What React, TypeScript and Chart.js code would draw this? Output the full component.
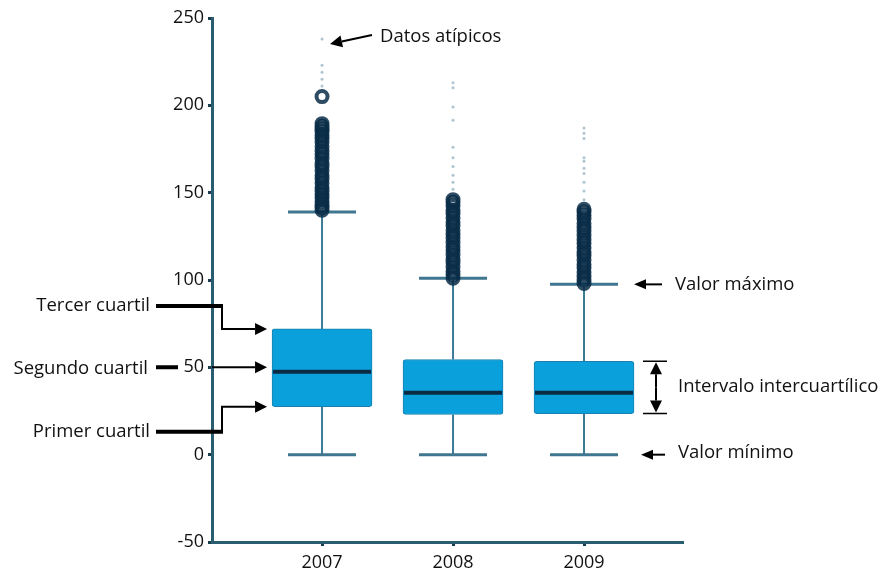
import React, { useEffect, useRef } from "react";
import { Chart, registerables } from "chart.js";

Chart.register(...registerables);

// ---- data ----
const years = [2007, 2008, 2009];
const yearLabels = ["2007", "2008", "2009"];
const minValues = [0, 0, 0];
const q1Values = [27.5, 23, 23.5];
const medianValues = [47.5, 35.5, 35.5];
const q3Values = [72, 54.5, 53.5];
const maxValues = [139, 101, 97.5];

const outliers2007 = [140, 141.5, 143, 145, 147, 149, 151, 153, 155.5, 158, 160, 162.5, 165, 167, 169.5, 172, 174, 176.5, 179, 181, 183, 185, 186.5, 188, 189.5, 205];
const outliers2008 = [101, 103, 105, 107.5, 110, 112, 114.5, 117, 119, 121.5, 124, 126, 128.5, 131, 133, 135.5, 138, 140, 142.5, 144.5, 146];
const outliers2009 = [98, 100, 102, 104.5, 107, 109, 111.5, 114, 116, 118.5, 121, 123, 125.5, 128, 130, 132.5, 135, 137, 139, 140.5];

const faint2007 = [238, 223, 219, 215, 211];
const faint2008 = [213, 210, 199, 191.5, 176, 170, 165, 160, 156, 152];
const faint2009 = [187, 184, 181, 170, 168, 164, 161, 156, 151, 146];

const yTicks = [-50, 0, 50, 100, 150, 200, 250];

const annotationTexts = {
  outliers: "Datos atípicos",
  max: "Valor máximo",
  iqr: "Intervalo intercuartílico",
  min: "Valor mínimo",
  q3: "Tercer cuartil",
  q2: "Segundo cuartil",
  q1: "Primer cuartil",
};

const FONT = '"Open Sans", "DejaVu Sans", sans-serif';
const BOX_WIDTH = 100;
const CAP_WIDTH = 68;

function arrow(ctx: CanvasRenderingContext2D, x1: number, y1: number, x2: number, y2: number, lw = 2, hl = 12, hw = 6) {
  const ang = Math.atan2(y2 - y1, x2 - x1);
  const bx = x2 - hl * Math.cos(ang);
  const by = y2 - hl * Math.sin(ang);
  ctx.lineWidth = lw;
  ctx.beginPath();
  ctx.moveTo(x1, y1);
  ctx.lineTo(bx, by);
  ctx.stroke();
  ctx.beginPath();
  ctx.moveTo(x2, y2);
  ctx.lineTo(bx + hw * Math.sin(ang), by - hw * Math.cos(ang));
  ctx.lineTo(bx - hw * Math.sin(ang), by + hw * Math.cos(ang));
  ctx.closePath();
  ctx.fill();
}

const whiskerPlugin = {
  id: "whiskers",
  beforeDatasetsDraw(chart: any) {
    const { ctx } = chart;
    const xs = chart.scales.x;
    const ys = chart.scales.y;
    ctx.save();
    years.forEach((yr, i) => {
      const cx = xs.getPixelForValue(yr);
      ctx.strokeStyle = "#3c7b96";
      ctx.lineWidth = 2;
      ctx.beginPath();
      ctx.moveTo(cx, ys.getPixelForValue(q3Values[i]));
      ctx.lineTo(cx, ys.getPixelForValue(maxValues[i]));
      ctx.moveTo(cx, ys.getPixelForValue(q1Values[i]));
      ctx.lineTo(cx, ys.getPixelForValue(minValues[i]));
      ctx.stroke();
      ctx.strokeStyle = "#3f7690";
      ctx.lineWidth = 3;
      ctx.beginPath();
      const yMax = ys.getPixelForValue(maxValues[i]);
      const yMin = ys.getPixelForValue(minValues[i]);
      ctx.moveTo(cx - CAP_WIDTH / 2, yMax);
      ctx.lineTo(cx + CAP_WIDTH / 2, yMax);
      ctx.moveTo(cx - CAP_WIDTH / 2, yMin);
      ctx.lineTo(cx + CAP_WIDTH / 2, yMin);
      ctx.stroke();
    });
    ctx.restore();
  },
  afterDatasetsDraw(chart: any) {
    const { ctx } = chart;
    const xs = chart.scales.x;
    const ys = chart.scales.y;
    ctx.save();
    ctx.strokeStyle = "#0b2a44";
    ctx.lineWidth = 4;
    years.forEach((yr, i) => {
      const cx = xs.getPixelForValue(yr);
      const my = ys.getPixelForValue(medianValues[i]);
      ctx.beginPath();
      ctx.moveTo(cx - BOX_WIDTH / 2 + 1, my);
      ctx.lineTo(cx + BOX_WIDTH / 2 - 1, my);
      ctx.stroke();
    });
    ctx.restore();
  },
};

const annotationPlugin = {
  id: "annotations",
  afterDraw(chart: any) {
    const { ctx, chartArea } = chart;
    const xs = chart.scales.x;
    const ys = chart.scales.y;
    ctx.save();
    ctx.fillStyle = "#111";
    ctx.strokeStyle = "#000";
    ctx.font = `18.5px ${FONT}`;
    ctx.textBaseline = "middle";

    // left side labels
    const boxLeft = xs.getPixelForValue(years[0]) - BOX_WIDTH / 2;
    const tipX = boxLeft - 5;
    const elbowX = chartArea.left + 10;
    const lineStart = 156;
    const textRight = 150;
    ctx.fillStyle = "#000";

    const yQ3 = ys.getPixelForValue(q3Values[0]);
    const yQ1 = ys.getPixelForValue(q1Values[0]);
    const yQ2 = ys.getPixelForValue(50);
    const yQ3t = yQ3 - 23;
    const yQ1t = yQ1 + 25;

    ctx.lineWidth = 4;
    ctx.beginPath();
    ctx.moveTo(lineStart, yQ3t);
    ctx.lineTo(elbowX + 1, yQ3t);
    ctx.moveTo(lineStart, yQ1t);
    ctx.lineTo(elbowX + 1, yQ1t);
    ctx.moveTo(lineStart, yQ2);
    ctx.lineTo(lineStart + 22, yQ2);
    ctx.stroke();

    ctx.lineWidth = 2;
    ctx.beginPath();
    ctx.moveTo(elbowX, yQ3t);
    ctx.lineTo(elbowX, yQ3);
    ctx.moveTo(elbowX, yQ1t);
    ctx.lineTo(elbowX, yQ1);
    ctx.stroke();
    arrow(ctx, elbowX - 1, yQ3, tipX, yQ3);
    arrow(ctx, elbowX - 1, yQ1, tipX, yQ1);
    arrow(ctx, chartArea.left, yQ2, tipX, yQ2);

    ctx.fillStyle = "#111";
    ctx.textAlign = "right";
    ctx.fillText(annotationTexts.q3, textRight, yQ3t);
    ctx.fillText(annotationTexts.q2, textRight - 2, yQ2 + 1);
    ctx.fillText(annotationTexts.q1, textRight, yQ1t);

    // outliers label
    ctx.fillStyle = "#000";
    const oy = ys.getPixelForValue(faint2007[0]) + 5;
    arrow(ctx, 372, oy - 9, xs.getPixelForValue(years[0]) + 8, oy, 2, 12, 6);
    ctx.fillStyle = "#111";
    ctx.textAlign = "left";
    ctx.fillText(annotationTexts.outliers, 380, oy - 7);

    const R = chartArea.right;
    // max
    ctx.fillStyle = "#000";
    const yMax = ys.getPixelForValue(maxValues[2]);
    arrow(ctx, R - 20, yMax, R - 48, yMax, 2, 12, 5);
    ctx.fillStyle = "#111";
    ctx.fillText(annotationTexts.max, R - 7, yMax);

    // min
    ctx.fillStyle = "#000";
    const yMin = ys.getPixelForValue(minValues[2]);
    arrow(ctx, R - 17, yMin, R - 41, yMin, 2, 12, 5);
    ctx.fillStyle = "#111";
    ctx.fillText(annotationTexts.min, R - 4, yMin - 2);

    // IQR
    ctx.fillStyle = "#000";
    const yT = ys.getPixelForValue(q3Values[2]);
    const yB = ys.getPixelForValue(q1Values[2]);
    ctx.lineWidth = 1.5;
    ctx.beginPath();
    ctx.moveTo(R - 39, yT);
    ctx.lineTo(R - 15, yT);
    ctx.moveTo(R - 39, yB);
    ctx.lineTo(R - 15, yB);
    ctx.stroke();
    const ax = R - 26;
    const mid = (yT + yB) / 2;
    arrow(ctx, ax, mid, ax, yT + 1, 2, 12, 6);
    arrow(ctx, ax, mid, ax, yB - 1, 2, 12, 6);
    ctx.fillStyle = "#111";
    ctx.fillText(annotationTexts.iqr, R - 4, mid - 1);

    ctx.restore();
  },
};

export default function App() {
  const canvasRef = useRef<HTMLCanvasElement | null>(null);

  useEffect(() => {
    if (!canvasRef.current) return;
    const boxData = years.map((yr, i) => ({ x: yr, y: [q1Values[i], q3Values[i]] }));
    const outlierData = [
      ...outliers2007.map((v) => ({ x: years[0], y: v })),
      ...outliers2008.map((v) => ({ x: years[1], y: v })),
      ...outliers2009.map((v) => ({ x: years[2], y: v })),
    ];
    const faintData = [
      ...faint2007.map((v) => ({ x: years[0], y: v })),
      ...faint2008.map((v) => ({ x: years[1], y: v })),
      ...faint2009.map((v) => ({ x: years[2], y: v })),
    ];

    const chart = new Chart(canvasRef.current, {
      type: "bar",
      data: {
        datasets: [
          {
            type: "scatter",
            label: "Outliers",
            data: outlierData,
            pointRadius: 5.5,
            pointBorderWidth: 4,
            pointBorderColor: "rgba(9,45,72,0.85)",
            pointBackgroundColor: "rgba(0,0,0,0)",
          } as any,
          {
            type: "scatter",
            label: "Faint",
            data: faintData,
            pointRadius: 1.5,
            pointBorderWidth: 0,
            pointBackgroundColor: "rgba(140,172,190,0.7)",
          } as any,
          {
            type: "bar",
            label: "IQR",
            data: boxData as any,
            backgroundColor: "#0aa0dc",
            borderColor: "#1a80b0",
            borderWidth: 1,
            borderSkipped: false,
            borderRadius: 3,
            barThickness: BOX_WIDTH,
            grouped: false,
          } as any,
        ],
      },
      options: {
        responsive: false,
        animation: false,
        events: [],
        layout: { padding: { top: 18, right: 206, left: 0, bottom: 0 } },
        plugins: { legend: { display: false }, tooltip: { enabled: false } },
        scales: {
          x: {
            type: "linear",
            offset: false,
            min: 2006.16,
            max: 2009.748,
            afterBuildTicks: (scale: any) => {
              scale.ticks = years.map((v) => ({ value: v }));
            },
            afterFit: (scale: any) => {
              scale.height = 31;
            },
            ticks: {
              callback: (v: any) => {
                const idx = years.indexOf(Number(v));
                return idx >= 0 ? yearLabels[idx] : "";
              },
              font: { family: FONT, size: 18 },
              color: "#111",
              padding: 6,
              maxRotation: 0,
              autoSkip: false,
            },
            grid: { offset: false, drawOnChartArea: false, drawTicks: true, tickLength: 4, color: "#1a3d4d", lineWidth: 3 },
            border: { display: true, color: "#2a5d72", width: 3 },
          },
          y: {
            type: "linear",
            min: -50,
            max: 250,
            afterBuildTicks: (scale: any) => {
              scale.ticks = yTicks.map((v) => ({ value: v }));
            },
            afterFit: (scale: any) => {
              scale.width = 212;
            },
            ticks: {
              font: { family: FONT, size: 18 },
              color: "#111",
              padding: 4,
              callback: (v: any) => String(v),
            },
            grid: { drawOnChartArea: false, drawTicks: true, tickLength: 4, color: "#1a3d4d", lineWidth: 3 },
            border: { display: true, color: "#2a5d72", width: 3 },
          },
        },
      },
      plugins: [whiskerPlugin, annotationPlugin],
    });
    return () => chart.destroy();
  }, []);

  return (
    <div style={{ position: "absolute", left: 0, top: 0, width: 888, height: 573, background: "#fff" }}>
      <canvas ref={canvasRef} width={888} height={573} style={{ width: 888, height: 573, display: "block" }} />
    </div>
  );
}
